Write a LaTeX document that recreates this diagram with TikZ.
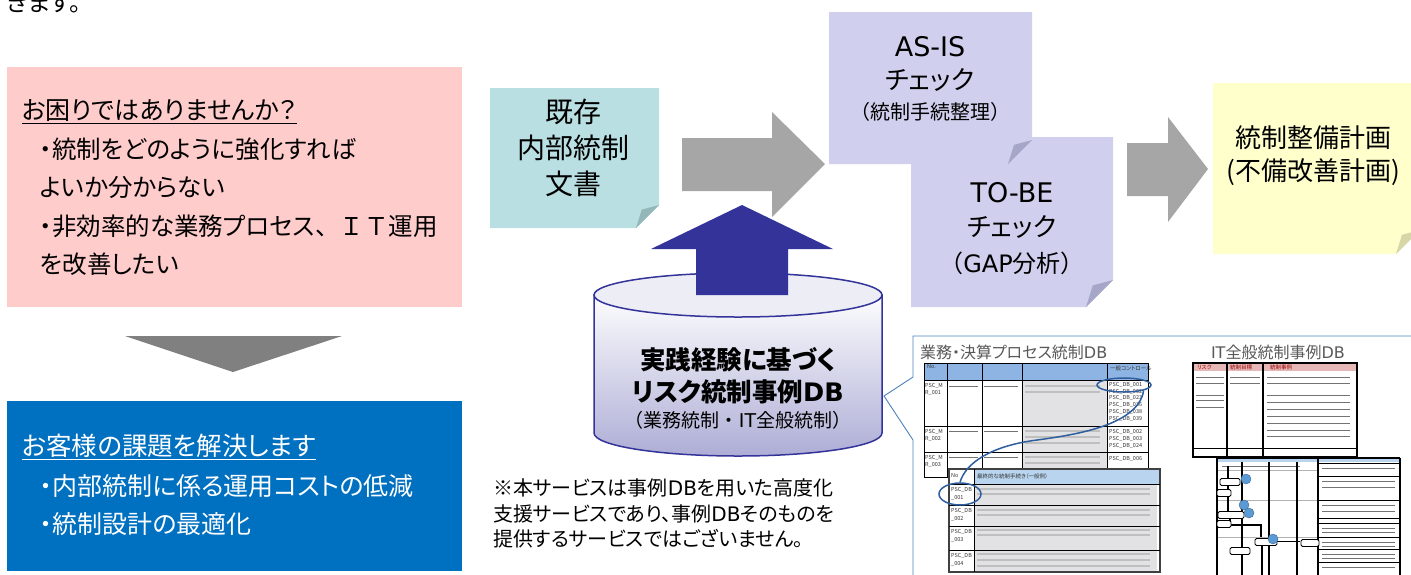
\documentclass[tikz,border=0pt]{standalone}
\usepackage{fontspec}
\setmainfont{Noto Sans CJK JP}[RawFeature=+palt]
\newfontfamily\jpfull{Noto Sans CJK JP}
\newfontfamily\lat{DejaVu Sans}
\newcommand\fsz[1]{\fontsize{#1}{#1}\selectfont}
\usetikzlibrary{shapes.geometric}
\definecolor{pinkbg}{RGB}{255,204,204}
\definecolor{bluebg}{RGB}{0,112,192}
\definecolor{cyanbg}{RGB}{185,223,226}
\definecolor{cyanfold}{RGB}{148,184,186}
\definecolor{lavbg}{RGB}{208,208,238}
\definecolor{lavfold}{RGB}{166,166,200}
\definecolor{yelbg}{RGB}{255,255,204}
\definecolor{yelfold}{RGB}{214,214,168}
\definecolor{arrgray}{RGB}{166,166,166}
\definecolor{trigray}{RGB}{128,128,128}
\definecolor{dkblue}{RGB}{51,51,153}
\definecolor{callblue}{RGB}{79,129,189}
\definecolor{titgray}{RGB}{89,89,89}
\definecolor{hdrblue}{RGB}{141,180,226}
\definecolor{hdrblue2}{RGB}{184,212,238}
\definecolor{cellgray}{RGB}{226,226,228}
\definecolor{hdrpink}{RGB}{230,184,183}
\definecolor{ellblue}{RGB}{46,94,158}
\definecolor{flowblue}{RGB}{91,155,213}
\newcommand\stickynote[7]{%
  \fill[#5] (#1,#2) -- (#3,#2) -- (#3,{#4-#7}) -- ({#3-#7},#4) -- (#1,#4) -- cycle;
  \fill[#6] ({#3-#7},#4) -- (#3,{#4-#7}) -- ({#3-0.75*#7},{#4-0.8*#7}) -- cycle;}
\begin{document}
\begin{tikzpicture}[x=1pt,y=-1pt,
  txt/.style={inner sep=0pt,outer sep=0pt},
  tline/.style={black,line width=0.9pt},
  tbar/.style={gray!50,line width=1.2pt},
  dbar/.style={black!55,line width=0.9pt},
  tiny/.style={inner sep=0pt,font=\fsz{5.5},text=black!80},
  flowbox/.style={draw=black,line width=0.9pt,fill=white,rounded corners=1.5pt,minimum width=20pt,minimum height=7pt,inner sep=0pt},
  flowdot/.style={circle,fill=flowblue,draw=flowblue!70!black,line width=0.4pt,minimum size=10pt,inner sep=0pt}]
\useasboundingbox (0,0) rectangle (1411,574);

% top cut text
\node[txt,anchor=base west,font=\fsz{24}] (topline) at (7,11) {きます。};

% pink problem box
\fill[pinkbg] (7,67) rectangle (462,307);
\node[txt,anchor=west,font=\fsz{25}] (p0) at (22,112) {\underline{お困りではありませんか？}};
\node[txt,anchor=west,font=\fsz{24.5}] (p1) at (40,149) {・統制をどのように強化すれば};
\node[txt,anchor=west,font=\fsz{24.5}] (p2) at (40,187) {よいか分からない};
\node[txt,anchor=west,font=\fsz{24.5}] (p3) at (40,226) {・非効率的な業務プロセス{\jpfull 、ＩＴ}運用};
\node[txt,anchor=west,font=\fsz{24.5}] (p4) at (40,264) {を改善したい};

% down triangle
\fill[trigray] (125,336) -- (342,336) -- (233,372) -- cycle;

% blue solution box
\fill[bluebg] (7,401) rectangle (462,571);
\node[txt,anchor=west,font=\fsz{25.5},text=white] (s0) at (22,447) {\underline{お客様の課題を解決します}};
\node[txt,anchor=west,font=\fsz{25},text=white] (s1) at (40,486) {・内部統制に係る運用コストの低減};
\node[txt,anchor=west,font=\fsz{25},text=white] (s2) at (40,524) {・統制設計の最適化};

% existing documents sticky
\stickynote{490}{88}{659}{228}{cyanbg}{cyanfold}{23}
\node[txt,align=center,font=\fontsize{28}{36}\selectfont] (kizon) at (573,148) {既存\\内部統制\\文書};

% gray arrow 1
\fill[arrgray] (682,138) -- (772,138) -- (772,112) -- (825,164) -- (772,217) -- (772,191) -- (682,191) -- cycle;

% TO-BE and AS-IS stickies
\stickynote{911}{137}{1113}{307}{lavbg}{lavfold}{27}
\stickynote{829}{12}{1032}{164}{lavbg}{lavfold}{24}
\node[txt,font=\lat\fsz{27}] (asis1) at (930,47) {AS-IS};
\node[txt,font=\fsz{26}] (asis2) at (930,80) {チェック};
\node[txt,font=\jpfull\fsz{20}] (asis3) at (930,112) {（統制手続整理）};
\node[txt,font=\lat\fsz{27}] (tobe1) at (1012,193) {TO-BE};
\node[txt,font=\fsz{26}] (tobe2) at (1012,227) {チェック};
\node[txt,font=\jpfull\fsz{24}] (tobe3) at (1012,263) {（{\lat GAP}分析）};

% gray arrow 2
\fill[arrgray] (1127,143) -- (1168,143) -- (1168,117) -- (1208,169) -- (1168,222) -- (1168,196) -- (1127,196) -- cycle;

% yellow plan sticky
\stickynote{1213}{83}{1420}{254}{yelbg}{yelfold}{24}
\node[txt,font=\jpfull\fsz{26}] (plan1) at (1313,138) {統制整備計画};
\node[txt,font=\jpfull\fsz{26}] (plan2) at (1313,172) {(不備改善計画)};

% database cylinder
\shade[top color=white!90!dkblue!12,bottom color=dkblue!40!white,draw=dkblue,line width=1.5pt]
  (594,295) -- (594,433) arc[start angle=180,end angle=0,x radius=144,y radius=23] -- (882,295) -- cycle;
\filldraw[fill=dkblue!9!white,draw=dkblue,line width=1.5pt] (738,295) ellipse[x radius=144,y radius=22];
\node[txt,font=\bfseries\fsz{25.5}] (db1) at (738,360) {実践経験に基づく};
\node[txt,font=\bfseries\fsz{25.5}] (db2) at (738,392) {リスク統制事例{\lat\bfseries DB}};
\node[txt,font=\jpfull\fsz{19}] (db3) at (738,420) {（業務統制・{\lat IT}全般統制）};
\coordinate (dbR) at (884,396);

% blue up arrow
\fill[dkblue] (696,295) -- (696,249) -- (651,249) -- (742,205) -- (833,249) -- (788,249) -- (788,295) -- cycle;

% note text
\node[txt,anchor=west,font=\fsz{20}] (n1) at (493,488) {※本サービスは事例{\lat DB}を用いた高度化};
\node[txt,anchor=west,font=\fsz{20}] (n2) at (493,514) {支援サービスであり、事例{\lat DB}そのものを};
\node[txt,anchor=west,font=\fsz{20}] (n3) at (493,539) {提供するサービスではございません。};

% callout
\filldraw[fill=white,draw=callblue,line width=0.9pt] (913,377) -- (913,336) -- (1425,336) -- (1425,590) -- (913,590) -- (913,440) -- (dbR) -- cycle;
\node[txt,anchor=west,font=\fsz{16},text=titgray] (t1) at (920,352) {業務・決算プロセス統制{\lat DB}};
\node[txt,anchor=west,font=\fsz{16},text=titgray] (t2) at (1211,352) {{\lat IT}全般統制事例{\lat DB}};

% table 1
\fill[white] (924,363) rectangle (1148,477);
\fill[hdrblue] (924,363) rectangle (1148,380);
\fill[cellgray] (1022,380) rectangle (1107,477);
\foreach \yy in {386,392,431,437,443,457,463,469} \draw[tbar] (1025,\yy) -- (1100,\yy);
\foreach \yy in {386,431,457} \draw[dbar] (984,\yy) -- (1018,\yy);
\foreach \yy in {386,431,457} \draw[dbar] (949,\yy) -- (978,\yy);
\draw[tline] (924,363) rectangle (1148,477);
\foreach \xx in {947,982,1022,1107} \draw[tline] (\xx,363) -- (\xx,477);
\foreach \yy in {380,426,452} \draw[tline] (924,\yy) -- (1148,\yy);
\node[tiny,anchor=west] (h1) at (927,367) {No.};
\node[tiny,anchor=west] (h5) at (1110,368) {一般コントロール};
\node[tiny,anchor=north west,align=left,font=\fontsize{5.5}{7}\selectfont] (r1) at (925,383) {PSC\_M\\R\_001};
\node[tiny,anchor=north west,align=left,font=\fontsize{5.5}{7}\selectfont] (r2) at (925,429) {PSC\_M\\R\_002};
\node[tiny,anchor=north west,align=left,font=\fontsize{5.5}{7}\selectfont] (r3) at (925,455) {PSC\_M\\R\_003};
\node[tiny,anchor=north west,align=left,font=\fontsize{5.5}{6.8}\selectfont] (c1) at (1109,382) {PSC\_DB\_001\\PSC\_DB\_002\\PSC\_DB\_023\\PSC\_DB\_036\\PSC\_DB\_038\\PSC\_DB\_039};
\node[tiny,anchor=north west,align=left,font=\fontsize{5.5}{7}\selectfont] (c2) at (1109,429) {PSC\_DB\_002\\PSC\_DB\_003\\PSC\_DB\_024};
\node[tiny,anchor=north west] (c3) at (1109,456) {PSC\_DB\_006};

% table 2
\fill[white] (949,469) rectangle (1160,572);
\fill[hdrblue2] (974,469) rectangle (1160,484);
\fill[cellgray] (974,484) rectangle (1157,572);
\foreach \yy in {489,494,510,515,530,535,554,560,566} \draw[tbar] (977,\yy) -- (1150,\yy);
\draw[black!75,line width=1.2pt] (949,469) rectangle (1160,572);
\draw[tline] (974,469) -- (974,572);
\foreach \yy in {484,505,526,550} \draw[tline] (949,\yy) -- (1160,\yy);
\node[tiny,anchor=west] (h21) at (951,476) {No};
\node[tiny,anchor=west] (h22) at (977,476) {最終的な統制手続き（一般例）};
\node[tiny,anchor=north west,align=left,font=\fontsize{5.5}{8}\selectfont] (d1) at (951,487) {PSC\_DB\\\_001};
\node[tiny,anchor=north west,align=left,font=\fontsize{5.5}{8}\selectfont] (d2) at (951,508) {PSC\_DB\\\_002};
\node[tiny,anchor=north west,align=left,font=\fontsize{5.5}{8}\selectfont] (d3) at (951,529) {PSC\_DB\\\_003};
\node[tiny,anchor=north west,align=left,font=\fontsize{5.5}{8}\selectfont] (d4) at (951,553) {PSC\_DB\\\_004};

% highlight ellipses and link
\node[ellipse,draw=ellblue,line width=1.5pt,minimum width=54pt,minimum height=14pt,inner sep=0pt] (e1) at (1124,385) {};
\node[ellipse,draw=ellblue,line width=1.5pt,minimum width=42pt,minimum height=22pt,inner sep=0pt] (e2) at (960,494) {};
\draw[ellblue,line width=1.5pt] (e1.south east) .. controls (1138,428) and (1065,436) .. (1030,441) .. controls (992,447) and (966,462) .. (e2.north);

% IT table
\fill[white] (1193,363) rectangle (1357,457);
\fill[hdrpink] (1193,363) rectangle (1357,371);
\foreach \yy in {377,383,395,400,407} \draw[dbar] (1196,\yy) -- (1224,\yy);
\foreach \yy in {377,383} \draw[dbar] (1230,\yy) -- (1260,\yy);
\foreach \yy in {377,383,395,402,409,416,423,430,436} \draw[dbar] (1267,\yy) -- (1350,\yy);
\draw[black,line width=2pt] (1193,363) rectangle (1357,457);
\draw[black,line width=1.6pt] (1227,363) -- (1227,457);
\draw[black,line width=1.6pt] (1263,363) -- (1263,457);
\draw[black,line width=0.8pt] (1193,448) -- (1357,448);
\node[tiny,anchor=west,text=red!60!black] (ih1) at (1197,367) {リスク};
\node[tiny,anchor=west,text=red!60!black] (ih2) at (1230,367) {統制目標};
\node[tiny,anchor=west,text=red!60!black] (ih3) at (1270,367) {統制事例};

% flow chart
\fill[white] (1215,458) rectangle (1402,580);
\fill[hdrblue2] (1217,458) rectangle (1400,462);
\foreach \yy in {470,500,537} \draw[gray!60,line width=0.8pt] (1217,\yy) -- (1318,\yy);
\foreach \yy in {463,476,500,518,523,537,549,562} \draw[black,line width=0.8pt] (1318,\yy) -- (1400,\yy);
\foreach \yy in {468,481,487,505,511,528,532,542,546,554,558,567} \draw[dbar] (1322,\yy) -- (1395,\yy);
\draw[dbar] (1222,466) -- (1300,466);
\draw[black,line width=2pt] (1217,458) -- (1400,458);
\draw[black,line width=2pt] (1217,458) -- (1217,580);
\foreach \xx in {1242,1269,1297} \draw[black,line width=1.8pt] (\xx,462) -- (\xx,580);
\draw[black,line width=2pt] (1318,458) -- (1318,580);
\draw[black,line width=2pt] (1400,458) -- (1400,580);
\draw[black,line width=2.2pt] (1228,466) -- (1228,478);
\draw[black,line width=2.2pt] (1228,486) -- (1228,511);
\draw[black,line width=2.2pt] (1230,519) -- (1230,525) -- (1261,525) -- (1261,537);
\draw[black,line width=2.2pt] (1262,546) -- (1262,580);
\draw[black,line width=1pt] (1277,541) -- (1300,541);
\node[flowbox] (f1) at (1230,482) {};
\node[flowbox,minimum width=14pt] (f2) at (1224,493) {};
\node[flowbox,minimum width=26pt] (f3) at (1231,515) {};
\node[flowbox,minimum width=14pt] (f4) at (1224,524) {};
\node[flowbox,minimum width=22pt] (f5) at (1266,542) {};
\node[flowbox,minimum width=20pt] (f6) at (1240,551) {};
\node[flowbox,minimum width=18pt] (f7) at (1310,543) {};
\node[flowdot] (o1) at (1246,479) {};
\node[flowdot] (o2) at (1244,505) {};
\node[flowdot] (o3) at (1249,513) {};
\node[flowdot] (o4) at (1273,539) {};
\end{tikzpicture}
\end{document}
